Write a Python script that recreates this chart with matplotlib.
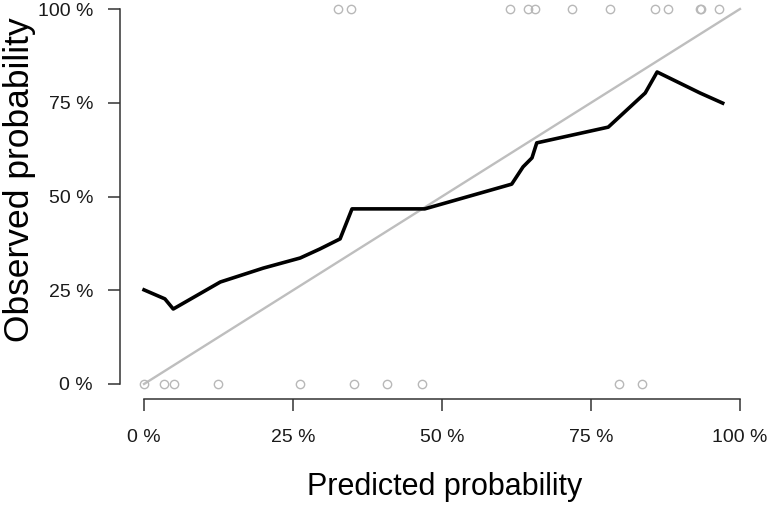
import matplotlib
matplotlib.use("Agg")
import matplotlib.pyplot as plt
import numpy as np

plt.rcParams['font.family'] = ['Liberation Sans', 'DejaVu Sans']

# observed outcomes (rug points): predicted prob for outcome = 1 and outcome = 0
pred_pos = [0.326, 0.347, 0.614, 0.644, 0.656, 0.718, 0.782, 0.857, 0.879, 0.933, 0.935, 0.965]
pred_neg = [0.0, 0.034, 0.050, 0.124, 0.262, 0.352, 0.408, 0.466, 0.797, 0.836]

# smoothed calibration curve
curve_x = [0.0, 0.035, 0.049, 0.128, 0.200, 0.262, 0.295, 0.329, 0.349, 0.471,
           0.617, 0.636, 0.651, 0.659, 0.779, 0.841, 0.861, 0.933, 0.971]
curve_y = [0.251, 0.227, 0.200, 0.272, 0.309, 0.336, 0.360, 0.387, 0.467, 0.467,
           0.533, 0.579, 0.603, 0.643, 0.685, 0.776, 0.832, 0.776, 0.749]

ticks = [0, 0.25, 0.5, 0.75, 1.0]
tick_labels = ["0 %", "25 %", "50 %", "75 %", "100 %"]

W, H = 772, 508
fig = plt.figure(figsize=(W / 100, H / 100), dpi=100)
left, right = 120.2, 763.8
bottom, top = 399.0, -6.0
ax = fig.add_axes([left / W, 1 - bottom / H, (right - left) / W, (bottom - top) / H])
ax.set_xlim(-0.04, 1.04)
ax.set_ylim(-0.04, 1.04)

ax.plot([0, 1], [0, 1], color="#BEBEBE", lw=1.7, zorder=1)
ax.plot(pred_pos, np.ones(len(pred_pos)), linestyle="none", marker="o", ms=6,
        mfc="none", mec="#B8B8B8", mew=1.0, zorder=2, clip_on=False)
ax.plot(pred_neg, np.zeros(len(pred_neg)), linestyle="none", marker="o", ms=6,
        mfc="none", mec="#B8B8B8", mew=1.0, zorder=2, clip_on=False)
ax.plot(curve_x, curve_y, color="black", lw=2.6, zorder=3, solid_joinstyle="round")

for s in ["top", "right"]:
    ax.spines[s].set_visible(False)
for s in ["left", "bottom"]:
    ax.spines[s].set_bounds(0, 1)
    ax.spines[s].set_color("#333333")
    ax.spines[s].set_linewidth(1.1)

ax.set_xticks(ticks)
ax.set_xticklabels(tick_labels)
ax.set_yticks(ticks)
ax.set_yticklabels(tick_labels)
ax.tick_params(axis="both", direction="out", length=8.5, width=1.1, color="#333333",
               labelsize=14, labelcolor="#1a1a1a")
ax.tick_params(axis="x", pad=13)
ax.tick_params(axis="y", pad=11)

fig.text(445 / W, 1 - 487 / H, "Predicted probability", fontsize=22,
         ha="center", va="center", color="black")
fig.text(20 / W, 1 - 180 / H, "Observed probability", fontsize=25.5,
         ha="center", va="center", rotation=90, color="black")

fig.savefig("out.png", dpi=100)
